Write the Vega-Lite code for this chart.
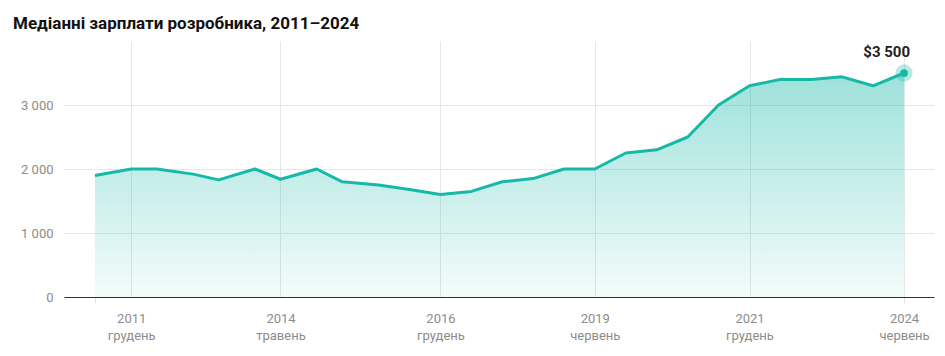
{
  "$schema": "https://vega.github.io/schema/vega-lite/v6.json",
  "autosize": "none",
  "width": 870,
  "height": 256,
  "padding": {"left": 64, "top": 41, "right": 11, "bottom": 59},
  "background": "white",
  "title": {
    "text": "Медіанні зарплати розробника, 2011–2024",
    "anchor": "start",
    "frame": "group",
    "dx": -51,
    "dy": 15,
    "offset": 10,
    "baseline": "alphabetic",
    "font": "Roboto",
    "fontSize": 17,
    "fontWeight": "bold",
    "color": "#111111"
  },
  "config": {
    "view": {"stroke": null},
    "axis": {"labelFont": "Roboto", "labelColor": "#8c8c8c", "labelFontSize": 13, "gridColor": "#e6e6e6", "gridWidth": 1}
  },
  "data": {
    "values": [
      {"date": "2011-05-01T00:00:00", "salary": 1900},
      {"date": "2011-12-01T00:00:00", "salary": 2000},
      {"date": "2012-05-01T00:00:00", "salary": 2000},
      {"date": "2012-12-01T00:00:00", "salary": 1920},
      {"date": "2013-05-01T00:00:00", "salary": 1830},
      {"date": "2013-12-01T00:00:00", "salary": 2000},
      {"date": "2014-05-01T00:00:00", "salary": 1840},
      {"date": "2014-12-01T00:00:00", "salary": 2000},
      {"date": "2015-05-01T00:00:00", "salary": 1800},
      {"date": "2015-12-01T00:00:00", "salary": 1750},
      {"date": "2016-06-01T00:00:00", "salary": 1680},
      {"date": "2016-12-01T00:00:00", "salary": 1600},
      {"date": "2017-06-01T00:00:00", "salary": 1650},
      {"date": "2017-12-01T00:00:00", "salary": 1800},
      {"date": "2018-06-01T00:00:00", "salary": 1850},
      {"date": "2018-12-01T00:00:00", "salary": 2000},
      {"date": "2019-06-01T00:00:00", "salary": 2000},
      {"date": "2019-12-01T00:00:00", "salary": 2250},
      {"date": "2020-06-01T00:00:00", "salary": 2300},
      {"date": "2020-12-01T00:00:00", "salary": 2500},
      {"date": "2021-06-01T00:00:00", "salary": 3000},
      {"date": "2021-12-01T00:00:00", "salary": 3300},
      {"date": "2022-06-01T00:00:00", "salary": 3400},
      {"date": "2022-12-01T00:00:00", "salary": 3400},
      {"date": "2023-06-01T00:00:00", "salary": 3440},
      {"date": "2023-12-01T00:00:00", "salary": 3300},
      {"date": "2024-06-01T00:00:00", "salary": 3500, "label": "$3 500"}
    ]
  },
  "encoding": {
    "x": {
      "field": "date",
      "type": "temporal",
      "scale": {"domain": [{"year": 2010, "month": 10, "date": 30}, {"year": 2024, "month": 11, "date": 25}]},
      "axis": {
        "title": null,
        "values": [
          {"year": 2011, "month": 5, "date": 1},
          {"year": 2011, "month": 12, "date": 1},
          {"year": 2014, "month": 5, "date": 1},
          {"year": 2016, "month": 12, "date": 1},
          {"year": 2019, "month": 6, "date": 1},
          {"year": 2021, "month": 12, "date": 1},
          {"year": 2024, "month": 6, "date": 1}
        ],
        "labelExpr": "year(datum.value) == 2011 && month(datum.value) == 4 ? '' : [timeFormat(datum.value, '%Y'), month(datum.value) == 4 ? 'травень' : (month(datum.value) == 5 ? 'червень' : 'грудень')]",
        "labelLineHeight": 17,
        "labelPadding": 9,
        "labelFlush": false,
        "labelOverlap": false,
        "domainColor": "#333333",
        "domainWidth": 1.2,
        "tickSize": 6,
        "tickColor": {"condition": {"test": "(year(datum.value) == 2011 && month(datum.value) == 4) || year(datum.value) == 2024", "value": "#e0e0e0"}, "value": "transparent"},
        "gridColor": {"condition": {"test": "year(datum.value) == 2011 && month(datum.value) == 4", "value": "transparent"}, "value": "#e6e6e6"}
      }
    },
    "y": {
      "field": "salary",
      "type": "quantitative",
      "scale": {"domain": [0, 4000], "nice": false},
      "axis": {
        "title": null,
        "values": [0, 1000, 2000, 3000],
        "labelExpr": "replace(format(datum.value, ','), ',', ' ')",
        "domain": false,
        "ticks": false,
        "labelPadding": 11
      }
    }
  },
  "layer": [
    {
      "mark": {
        "type": "area",
        "color": {
          "gradient": "linear",
          "x1": 0, "y1": 0, "x2": 0, "y2": 1,
          "stops": [
            {"offset": 0, "color": "rgba(22,185,168,0.42)"},
            {"offset": 1, "color": "rgba(22,185,168,0.05)"}
          ]
        }
      }
    },
    {
      "mark": {"type": "line", "color": "#16b9a8", "strokeWidth": 3, "strokeJoin": "round"}
    },
    {
      "transform": [{"filter": "datum.label"}],
      "layer": [
        {"mark": {"type": "point", "filled": true, "color": "#16b9a8", "opacity": 0.3, "size": 300}},
        {"mark": {"type": "point", "filled": true, "color": "#16b9a8", "opacity": 1, "size": 60}},
        {
          "mark": {"type": "text", "align": "right", "baseline": "alphabetic", "dx": 6, "dy": -16, "font": "Roboto", "fontSize": 15, "fontWeight": "bold", "color": "#222222"},
          "encoding": {"text": {"field": "label"}}
        }
      ]
    }
  ]
}
